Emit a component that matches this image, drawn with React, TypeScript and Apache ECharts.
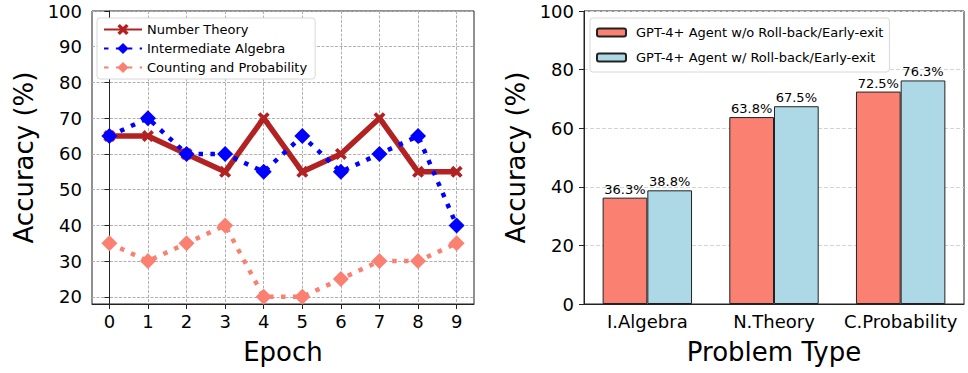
import React, { useEffect, useRef } from 'react';
import * as echarts from 'echarts';

const epochs = [0, 1, 2, 3, 4, 5, 6, 7, 8, 9];
const numberTheory = [65, 65, 60, 55, 70, 55, 60, 70, 55, 55];
const intermediateAlgebra = [65, 70, 60, 60, 55, 65, 55, 60, 65, 40];
const countingProbability = [35, 30, 35, 40, 20, 20, 25, 30, 30, 35];
const leftYTicks = [20, 30, 40, 50, 60, 70, 80, 90, 100];

const problemTypes = ['I.Algebra', 'N.Theory', 'C.Probability'];
const withoutRollback = [36.3, 63.8, 72.5];
const withRollback = [38.8, 67.5, 76.3];

const FONT = 'DejaVu Sans';
const X_PATH = 'path://M2.2,0 L5,2.8 L7.8,0 L10,2.2 L7.2,5 L10,7.8 L7.8,10 L5,7.2 L2.2,10 L0,7.8 L2.8,5 L0,2.2 Z';

export default function App() {
  const ref = useRef<HTMLDivElement>(null);
  useEffect(() => {
    if (!ref.current) return;
    const chart = echarts.init(ref.current, null, { renderer: 'svg' });
    const axisLine = { show: true, lineStyle: { color: '#222', width: 1 } };
    const tick = { show: true, length: 5, lineStyle: { color: '#222', width: 1 } };
    const tickLabel = { color: '#000', fontSize: 18, fontFamily: FONT };
    const nameStyle = { color: '#000', fontSize: 26, fontFamily: FONT };
    chart.setOption({
      animation: false,
      textStyle: { fontFamily: FONT },
      grid: [
        { left: 92, top: 11, width: 382, height: 293, show: true, borderColor: '#222', borderWidth: 1, backgroundColor: '#fff' },
        { left: 584, top: 11, width: 380, height: 293, show: true, borderColor: '#222', borderWidth: 1, backgroundColor: '#fff' },
      ],
      legend: [
        {
          orient: 'vertical', left: 97, top: 18, padding: [5, 8, 5, 6], itemGap: 6,
          itemWidth: 38, itemHeight: 14,
          backgroundColor: '#fff', borderColor: '#d8d8d8', borderWidth: 1, borderRadius: 3,
          textStyle: { fontSize: 13, fontFamily: FONT, color: '#000' },
          data: ['Number Theory', 'Intermediate Algebra', 'Counting and Probability'],
        },
        {
          orient: 'vertical', left: 590, top: 18, padding: [8, 6], itemGap: 12,
          itemWidth: 29, itemHeight: 8,
          backgroundColor: '#fff', borderColor: '#d8d8d8', borderWidth: 1, borderRadius: 3,
          textStyle: { fontSize: 13, fontFamily: FONT, color: '#000', padding: [0, 0, 0, 5] },
          data: ['GPT-4+ Agent w/o Roll-back/Early-exit', 'GPT-4+ Agent w/ Roll-back/Early-exit'],
        },
      ],
      xAxis: [
        {
          type: 'value', gridIndex: 0, min: -0.45, max: 9.45,
          name: 'Epoch', nameLocation: 'middle', nameGap: 35, nameTextStyle: nameStyle,
          axisLine, axisTick: { ...tick, customValues: epochs },
          axisLabel: { ...tickLabel, margin: 8, customValues: epochs },
          splitLine: { show: true, lineStyle: { color: '#b0b0b0', type: [3, 1.5], width: 1 } },
        },
        {
          type: 'category', gridIndex: 1, data: problemTypes,
          name: 'Problem Type', nameLocation: 'middle', nameGap: 35, nameTextStyle: nameStyle,
          axisLine, axisTick: { show: false },
          axisLabel: { ...tickLabel, margin: 8, interval: 0 },
          splitLine: { show: false },
        },
      ],
      yAxis: [
        {
          type: 'value', gridIndex: 0, min: 18, max: 100,
          name: 'Accuracy (%)', nameLocation: 'middle', nameGap: 55, nameTextStyle: nameStyle,
          axisLine, axisTick: { ...tick, customValues: leftYTicks },
          axisLabel: { ...tickLabel, margin: 10, customValues: leftYTicks },
          splitLine: { show: true, lineStyle: { color: '#b0b0b0', type: [3, 1.5], width: 1 } },
        },
        {
          type: 'value', gridIndex: 1, min: 0, max: 100, interval: 20,
          name: 'Accuracy (%)', nameLocation: 'middle', nameGap: 55, nameTextStyle: nameStyle,
          axisLine, axisTick: tick,
          axisLabel: { ...tickLabel, margin: 10 },
          splitLine: { show: true, lineStyle: { color: '#d4d4d4', type: [4, 2], width: 1 } },
        },
      ],
      series: [
        {
          name: 'Number Theory', type: 'line', xAxisIndex: 0, yAxisIndex: 0,
          data: epochs.map((e, i) => [e, numberTheory[i]]),
          symbol: X_PATH, symbolSize: 12,
          lineStyle: { color: '#b22222', width: 5.5 },
          itemStyle: { color: '#b22222' },
        },
        {
          name: 'Intermediate Algebra', type: 'line', xAxisIndex: 0, yAxisIndex: 0,
          data: epochs.map((e, i) => [e, intermediateAlgebra[i]]),
          symbol: 'diamond', symbolSize: 16,
          lineStyle: { color: '#0000ff', width: 4.5, type: [4.5, 7.4], cap: 'butt' },
          itemStyle: { color: '#0000ff' },
        },
        {
          name: 'Counting and Probability', type: 'line', xAxisIndex: 0, yAxisIndex: 0,
          data: epochs.map((e, i) => [e, countingProbability[i]]),
          symbol: 'diamond', symbolSize: 16,
          lineStyle: { color: '#fa8072', width: 4.5, type: [4.5, 7.4], cap: 'butt' },
          itemStyle: { color: '#fa8072' },
        },
        {
          name: 'GPT-4+ Agent w/o Roll-back/Early-exit', type: 'bar', xAxisIndex: 1, yAxisIndex: 1,
          data: withoutRollback, barWidth: 44.7, barGap: '0%',
          itemStyle: { color: '#fa8072', borderColor: '#222', borderWidth: 1 },
          label: { show: true, position: 'top', distance: 2, formatter: '{c}%', fontSize: 13, fontFamily: FONT, color: '#000' },
        },
        {
          name: 'GPT-4+ Agent w/ Roll-back/Early-exit', type: 'bar', xAxisIndex: 1, yAxisIndex: 1,
          data: withRollback, barWidth: 44.7, barGap: '0%',
          itemStyle: { color: '#add8e6', borderColor: '#222', borderWidth: 1 },
          label: { show: true, position: 'top', distance: 2, formatter: '{c}%', fontSize: 13, fontFamily: FONT, color: '#000' },
        },
      ],
    });
    return () => chart.dispose();
  }, []);
  return <div ref={ref} style={{ position: 'absolute', left: 0, top: 0, width: 968, height: 373 }} />;
}
